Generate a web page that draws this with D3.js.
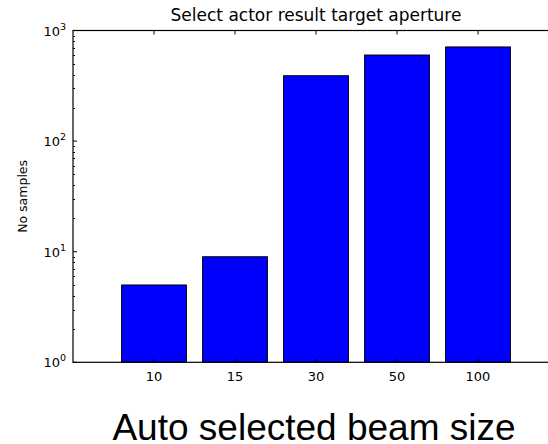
<!DOCTYPE html>
<html>
<head>
<meta charset="utf-8">
<script src="https://cdn.jsdelivr.net/npm/d3@7"></script>
<style>
  html, body { margin: 0; padding: 0; background: #fff; }
  svg { display: block; }
</style>
</head>
<body>
<svg id="chart" width="548" height="444"></svg>
<script>
// Aperture sizes and how many samples picked each one
const categories = ["10", "15", "30", "50", "100"];
const samples = [5, 9, 390, 600, 710];
const yDecades = [1, 10, 100, 1000];
const yExponents = ["0", "1", "2", "3"];

const svg = d3.select("#chart");
const plot = { left: 73, right: 559, top: 30.5, bottom: 362.3 };

// Category positions: index-based with one empty slot of padding on each side
const x = d3.scaleLinear().domain([-1, categories.length]).range([plot.left, plot.right]);
const y = d3.scaleLog().domain([1, 1000]).range([plot.bottom, plot.top]);
const barWidth = (x(1) - x(0)) * 0.8;

const g = svg.append("g");

// Bars
g.selectAll("rect.bar")
  .data(samples)
  .join("rect")
  .attr("class", "bar")
  .attr("x", (d, i) => x(i) - barWidth / 2)
  .attr("y", d => y(d))
  .attr("width", barWidth)
  .attr("height", d => y(1) - y(d))
  .attr("fill", "#0000ff")
  .attr("stroke", "#000")
  .attr("stroke-width", 1);

// Minor log ticks (2..9 in each decade), drawn inward on the left spine
const minor = [];
yDecades.slice(0, -1).forEach(d => { for (let k = 2; k <= 9; k++) minor.push(d * k); });

const tickColor = "#000";
g.selectAll("line.minor")
  .data(minor)
  .join("line")
  .attr("x1", plot.left).attr("x2", plot.left + 2)
  .attr("y1", d => Math.round(y(d)) + 0.5).attr("y2", d => Math.round(y(d)) + 0.5)
  .attr("stroke", tickColor).attr("stroke-width", 1);

g.selectAll("line.major")
  .data(yDecades)
  .join("line")
  .attr("x1", plot.left).attr("x2", plot.left + 4)
  .attr("y1", d => y(d)).attr("y2", d => y(d))
  .attr("stroke", tickColor).attr("stroke-width", 1);

// Category ticks on bottom and top spines, pointing inward
g.selectAll("line.xb")
  .data(categories)
  .join("line")
  .attr("x1", (d, i) => x(i)).attr("x2", (d, i) => x(i))
  .attr("y1", plot.bottom).attr("y2", plot.bottom - 4)
  .attr("stroke", tickColor).attr("stroke-width", 1);
g.selectAll("line.xt")
  .data(categories)
  .join("line")
  .attr("x1", (d, i) => x(i)).attr("x2", (d, i) => x(i))
  .attr("y1", plot.top).attr("y2", plot.top + 4)
  .attr("stroke", tickColor).attr("stroke-width", 1);

// Spines
g.append("rect")
  .attr("x", plot.left).attr("y", plot.top)
  .attr("width", plot.right - plot.left).attr("height", plot.bottom - plot.top)
  .attr("fill", "none").attr("stroke", "#000").attr("stroke-width", 1.2);

const tickFont = "'DejaVu Sans', sans-serif";

// X tick labels
g.selectAll("text.xl")
  .data(categories)
  .join("text")
  .attr("x", (d, i) => x(i))
  .attr("y", plot.bottom + 19)
  .attr("text-anchor", "middle")
  .attr("font-family", tickFont)
  .attr("font-size", 13)
  .attr("fill", "#000")
  .text(d => d);

// Y tick labels as 10 with a superscript exponent
const yl = g.selectAll("text.yl")
  .data(yDecades)
  .join("text")
  .attr("x", plot.left - 7)
  .attr("y", d => y(d) + 5)
  .attr("text-anchor", "end")
  .attr("font-family", tickFont)
  .attr("font-size", 13)
  .attr("fill", "#000");
yl.append("tspan").text("10");
yl.append("tspan")
  .attr("dy", -6)
  .attr("font-size", 9.5)
  .text((d, i) => yExponents[i]);

// Title
svg.append("text")
  .attr("x", (plot.left + plot.right) / 2)
  .attr("y", 21)
  .attr("text-anchor", "middle")
  .attr("font-family", tickFont)
  .attr("font-size", 17)
  .attr("fill", "#000")
  .text("Select actor result target aperture");

// Y axis label
svg.append("text")
  .attr("transform", `translate(27, ${(plot.top + plot.bottom) / 2}) rotate(-90)`)
  .attr("text-anchor", "middle")
  .attr("font-family", tickFont)
  .attr("font-size", 12.5)
  .attr("fill", "#000")
  .text("No samples");

// Large caption under the chart
svg.append("text")
  .attr("x", 314)
  .attr("y", 440)
  .attr("text-anchor", "middle")
  .attr("font-family", "'Liberation Sans', Arial, sans-serif")
  .attr("font-size", 37)
  .attr("fill", "#000")
  .text("Auto selected beam size");
</script>
</body>
</html>
